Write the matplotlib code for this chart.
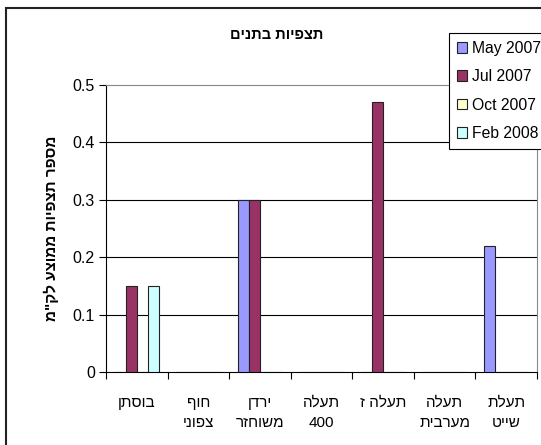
import matplotlib
matplotlib.use("Agg")
import matplotlib.pyplot as plt
import numpy as np
from matplotlib.patches import Rectangle

plt.rcParams['font.family'] = ['Liberation Sans', 'DejaVu Sans']

title = "תצפיות בתנים"
ylabel = 'מספר תצפיות ממוצע לק"מ'
categories = ["בוסתן", "חוף\nצפוני", "ירדן\nמשוחזר", "תעלה\n400", "תעלה ז", "תעלה\nמערבית", "תעלת\nשייט"]
series_names = ["May 2007", "Jul 2007", "Oct 2007", "Feb 2008"]
may_2007 = [0, 0, 0.30, 0, 0, 0, 0.22]
jul_2007 = [0.15, 0, 0.30, 0, 0.47, 0, 0]
oct_2007 = [0, 0, 0, 0, 0, 0, 0]
feb_2008 = [0.15, 0, 0, 0, 0, 0, 0]
yticks = [0, 0.1, 0.2, 0.3, 0.4, 0.5]
ytick_labels = ["0", "0.1", "0.2", "0.3", "0.4", "0.5"]
colors = ["#9999FF", "#993366", "#FFFFCC", "#CCFFFF"]


def vis(s):
    # visual order for RTL text (no bidi in matplotlib)
    out = []
    for line in s.split("\n"):
        if line.isdigit():
            out.append(line)
        else:
            out.append(line[::-1])
    return "\n".join(out)


fig = plt.figure(figsize=(5.41, 4.45), dpi=100)
W, H = 541, 445
ax = fig.add_axes([106 / W, 1 - 372 / H, (537 - 106) / W, (372 - 85) / H])

series = [may_2007, jul_2007, oct_2007, feb_2008]
n = len(categories)
bw = 1 / 5.5
x = np.arange(n)
for i, (name, vals, c) in enumerate(zip(series_names, series, colors)):
    offs = (i - 1.5) * bw
    ax.bar(x + offs, vals, width=bw, color=c, edgecolor="#222222", linewidth=0.8,
           label=name, zorder=3)

ax.set_xlim(-0.5, n - 0.5)
ax.set_ylim(0, 0.5)
ax.set_yticks(yticks)
ax.set_yticklabels(ytick_labels, fontsize=11.5)
ax.set_xticks(x)
ax.set_xticklabels([vis(c) for c in categories], fontsize=11, linespacing=1.55)
ax.set_xticks(np.arange(-0.5, n, 1), minor=True)
ax.tick_params(axis="x", which="major", length=0, pad=17)
ax.tick_params(axis="x", which="minor", length=5, direction="out", width=0.8)
ax.tick_params(axis="y", length=5, direction="out", width=0.8, pad=3)

for yv in yticks[1:-1]:
    ax.axhline(yv, color="black", linewidth=0.8, zorder=1)

ax.spines["top"].set_color("#888888")
ax.spines["right"].set_color("#888888")
ax.spines["left"].set_color("black")
ax.spines["bottom"].set_color("black")
for s in ax.spines.values():
    s.set_linewidth(0.8)

ax.set_ylabel(vis(ylabel), fontsize=11, fontweight="bold", labelpad=10)

fig.text(277 / W, 1 - 35 / H, vis(title), ha="center", va="center",
         fontsize=10.5, fontweight="bold")

leg = fig.legend(loc="upper left", bbox_to_anchor=(449 / W, 1 - 33 / H),
                 fancybox=False, edgecolor="black", framealpha=1,
                 fontsize=11.3, handlelength=0.65, handleheight=0.65,
                 handletextpad=0.3, labelspacing=0.85, borderpad=0.5,
                 borderaxespad=0)
leg.get_frame().set_linewidth(0.8)
for h in leg.legend_handles:
    h.set_edgecolor("#222222")
    h.set_linewidth(0.8)

fig.patches.append(Rectangle((6 / W, -0.1), 1.2, 1 - 8 / H + 0.1,
                             transform=fig.transFigure, fill=False,
                             edgecolor="#222222", linewidth=1.5))

fig.savefig("out.png", dpi=100)
